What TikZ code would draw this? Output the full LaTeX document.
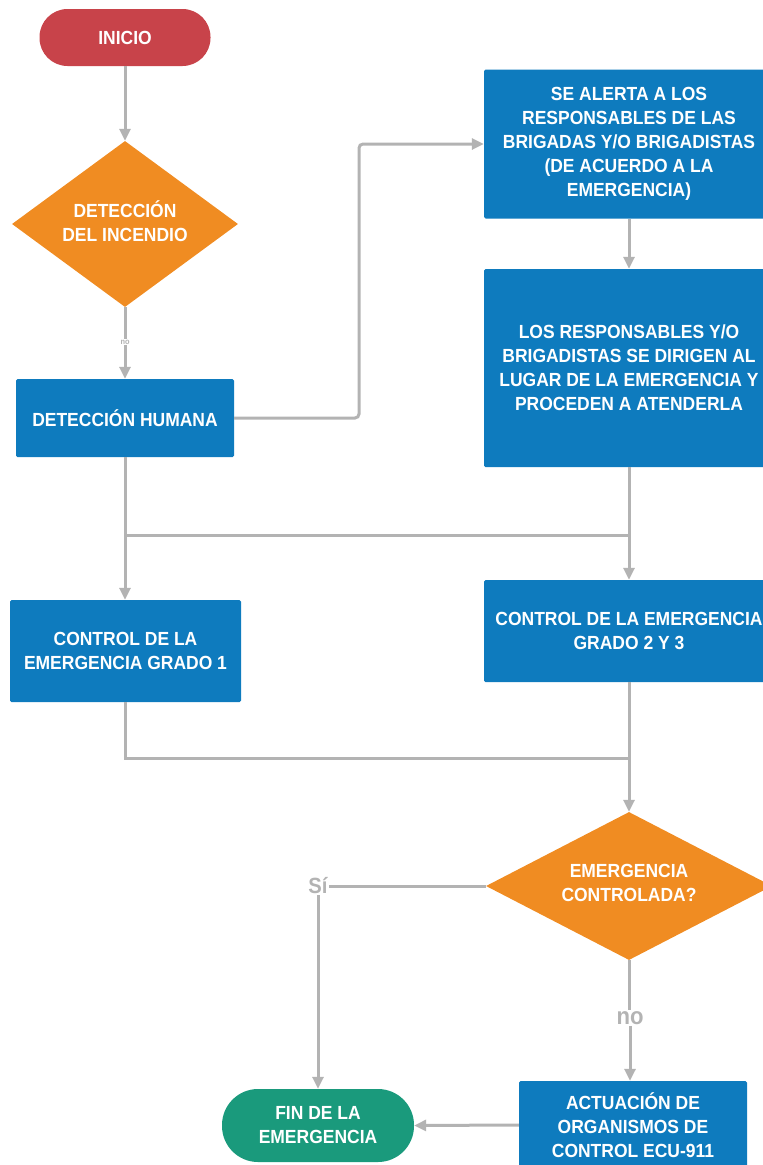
\documentclass[tikz,border=0pt]{standalone}
\usepackage{fontspec}
\setmainfont{Liberation Sans}[FakeStretch=0.92]
\usetikzlibrary{shapes.geometric,arrows.meta}

\definecolor{rojo}{HTML}{C8434A}
\definecolor{naranja}{HTML}{F08C22}
\definecolor{azul}{HTML}{0E7BBE}
\definecolor{verde}{HTML}{1A9A7C}
\definecolor{linea}{HTML}{B3B3B3}

\tikzset{
  texto/.style={text=white, font=\bfseries\fontsize{19}{24}\selectfont, align=center, inner sep=0pt},
  caja/.style={texto, rectangle, fill=azul, rounded corners=1.5pt},
  terminal/.style={texto, rectangle, rounded corners=28pt},
  decision/.style={texto, diamond, fill=naranja, aspect=2},
  etiqueta/.style={text=linea, font=\bfseries\fontsize{22}{24}\selectfont, inner sep=1pt},
  flujo/.style={draw=linea, line width=3pt},
  flecha/.style={flujo, -{Triangle[length=12pt,width=11pt]}}
}

\begin{document}
\begin{tikzpicture}[x=1pt,y=-1pt]
\useasboundingbox (0,0) rectangle (763,1165);
\clip (0,0) rectangle (763,1165);

% nodos
\node[terminal, fill=rojo, minimum width=171pt, minimum height=57pt] (inicio) at (125,37.5) {INICIO};
\node[decision, minimum width=226pt, minimum height=166pt] (deteccion) at (125,224) {};
\node[texto] at (125,221) {DETECCIÓN\\DEL INCENDIO};
\node[caja, minimum width=218pt, minimum height=78pt] (humana) at (125,418) {DETECCIÓN HUMANA};
\node[caja, minimum width=290pt, minimum height=149pt] (alerta) at (629,144)
  {SE ALERTA A LOS\\RESPONSABLES DE LAS\\BRIGADAS Y/O BRIGADISTAS\\(DE ACUERDO A LA\\EMERGENCIA)};
\node[caja, minimum width=290pt, minimum height=198pt] (dirigen) at (629,368)
  {LOS RESPONSABLES Y/O\\BRIGADISTAS SE DIRIGEN AL\\LUGAR DE LA EMERGENCIA Y\\PROCEDEN A ATENDERLA};
\node[caja, minimum width=231pt, minimum height=102pt] (grado1) at (125.5,651) {CONTROL DE LA\\EMERGENCIA GRADO 1};
\node[caja, minimum width=290pt, minimum height=102pt] (grado23) at (629,631) {CONTROL DE LA EMERGENCIA\\GRADO 2 Y 3};
\node[decision, minimum width=286pt, minimum height=148pt] (controlada) at (629,886) {};
\node[texto] at (629,883) {EMERGENCIA\\CONTROLADA?};
\node[caja, minimum width=228pt, minimum height=88pt] (actuacion) at (633,1125)
  {ACTUACIÓN DE\\ORGANISMOS DE\\CONTROL ECU-911};
\node[terminal, fill=verde, minimum width=192pt, minimum height=73pt, rounded corners=36pt] (fin) at (318,1125.5)
  {FIN DE LA\\EMERGENCIA};

% etiquetas
\node[etiqueta, font=\bfseries\fontsize{8}{9}\selectfont, fill=white] (no1) at (125,342) {no};
\node[etiqueta] (si) at (318,886) {Sí};
\node[etiqueta, font=\bfseries\fontsize{24}{26}\selectfont] (no2) at (630,1018) {no};

% puntos de union
\coordinate (giro) at (359,418);
\coordinate (u1) at (125,535);
\coordinate (u2) at (629,535);
\coordinate (u3) at (629,758);

% conectores
\draw[flecha] (inicio) -- (deteccion);
\draw[flujo] (deteccion.south) -- (no1.north);
\draw[flecha] (no1.south) -- (humana.north);
\draw[flecha, rounded corners=4pt] (humana.east) -- (giro) |- (alerta.west);
\draw[flecha] (alerta) -- (dirigen);
\draw[flecha] (dirigen.south) -- (grado23.north);
\draw[flecha] (humana.south) -- (humana.south |- grado1.north);
\draw[flujo] (u1) -- (u2);
\draw[flujo] (grado1.south) |- (u3);
\draw[flecha] (grado23.south) -- (controlada.north);
\draw[flujo] (controlada.west) -- (si.east);
\draw[flecha] (si.south) -- (fin.north);
\draw[flujo] (controlada.south) -- (no2.north -| controlada.south);
\draw[flecha] (no2.south) -- (no2.south |- actuacion.north);
\draw[flecha] (actuacion.west) -- (fin.east);
\end{tikzpicture}
\end{document}
